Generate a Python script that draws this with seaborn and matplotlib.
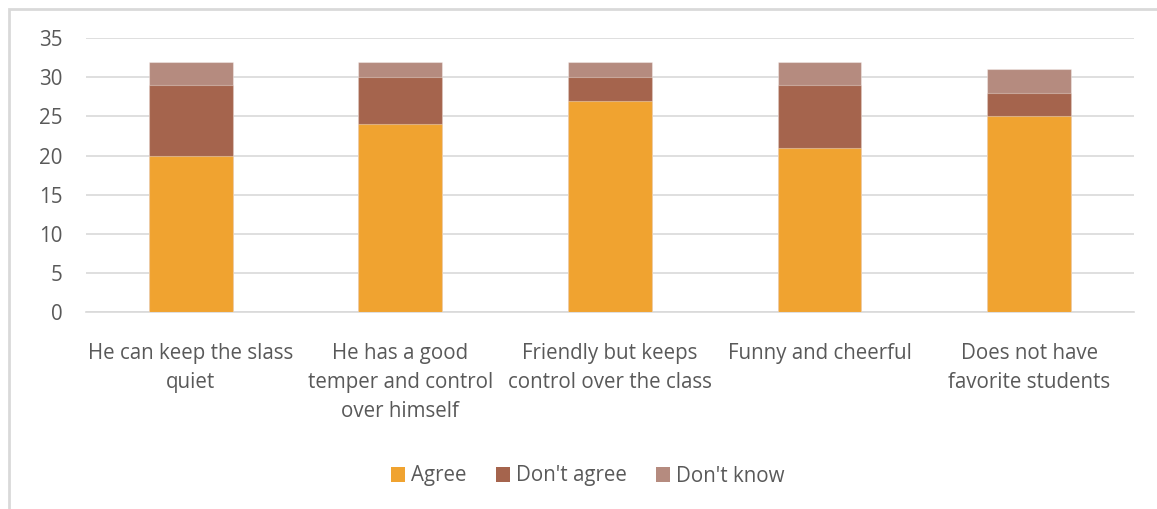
import matplotlib
matplotlib.use("Agg")
import matplotlib.pyplot as plt
from matplotlib.patches import Patch, Rectangle
import seaborn as sns
import pandas as pd
import numpy as np

categories = [
    "He can keep the slass\nquiet",
    "He has a good\ntemper and control\nover himself",
    "Friendly but keeps\ncontrol over the class",
    "Funny and cheerful",
    "Does not have\nfavorite students",
]
agree = [20, 24, 27, 21, 25]
dont_agree = [9, 6, 3, 8, 3]
dont_know = [3, 2, 2, 3, 3]
series_names = ["Agree", "Don't agree", "Don't know"]
colors = ["#F0A330", "#A5644D", "#B58B7F"]
y_ticks = [0, 5, 10, 15, 20, 25, 30, 35]

sns.set_theme(style="white")
plt.rcParams["font.family"] = ["Open Sans", "DejaVu Sans"]
text_color = "#595959"
grid_color = "#D9D9D9"

df = pd.DataFrame({
    "category": categories,
    "agree": agree,
    "dont_agree": dont_agree,
    "dont_know": dont_know,
})
# cumulative tops for stacking (drawn back to front)
df["top_agree"] = df["agree"]
df["top_dont_agree"] = df["agree"] + df["dont_agree"]
df["top_dont_know"] = df["top_dont_agree"] + df["dont_know"]

fig = plt.figure(figsize=(11.57, 5.09), dpi=100)
ax = fig.add_axes([0.0743, 0.387, 0.9057, 0.538])

for col, color in zip(["top_dont_know", "top_dont_agree", "top_agree"], colors[::-1]):
    sns.barplot(data=df, x="category", y=col, color=color, width=0.4,
                edgecolor=(1, 1, 1, 0.35), linewidth=0.8, ax=ax, zorder=3,
                saturation=1)

ax.set_ylim(0, 35)
ax.set_yticks(y_ticks)
ax.set_xlim(-0.5, len(categories) - 0.5)
ax.yaxis.grid(True, color=grid_color, linewidth=1.2, zorder=0)
ax.set_axisbelow(True)
for side in ["top", "right", "left"]:
    ax.spines[side].set_visible(False)
ax.spines["bottom"].set_color(grid_color)
ax.spines["bottom"].set_linewidth(1.2)
ax.set_xlabel("")
ax.set_ylabel("")
ax.tick_params(axis="both", length=0, colors=text_color, labelsize=14.8)
ax.tick_params(axis="y", pad=17)
ax.tick_params(axis="x", pad=22)
for lbl in ax.get_xticklabels():
    lbl.set_linespacing(1.5)

handles = [Patch(facecolor=c, edgecolor="none", label=n) for c, n in zip(colors, series_names)]
leg = fig.legend(handles=handles, loc="center", bbox_to_anchor=(0.508, 1 - 476 / 509),
                 ncol=3, frameon=False, fontsize=14.8, handlelength=0.7,
                 handleheight=0.7, handletextpad=0.3, columnspacing=1.4)
for t in leg.get_texts():
    t.set_color(text_color)

# chart area frame
fig.patches.append(Rectangle((9 / 1157, -0.1), 1.2, 1 - 9 / 509 + 0.1,
                             transform=fig.transFigure, fill=False,
                             edgecolor=grid_color, linewidth=2))

fig.savefig("out.png", dpi=100)
